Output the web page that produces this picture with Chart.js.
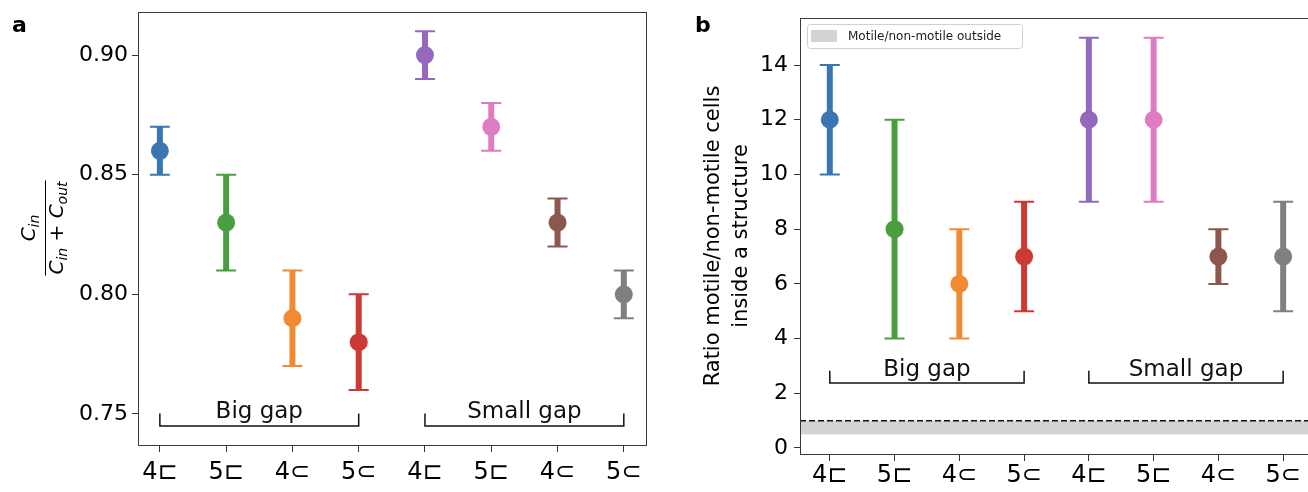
<!DOCTYPE html>
<html>
<head>
<meta charset="utf-8">
<script src="https://cdn.jsdelivr.net/npm/chart.js@4/dist/chart.umd.min.js"></script>
<style>
  html, body { margin: 0; padding: 0; background: #fff; overflow: hidden; width: 1308px; height: 492px; }
  #ca { position: absolute; left: 0; top: 0; }
  #cb { position: absolute; left: 660px; top: 0; }
</style>
</head>
<body>
<canvas id="ca" width="660" height="492"></canvas>
<canvas id="cb" width="660" height="492"></canvas>
<script>
// data
var categories = ['4⊏', '5⊏', '4⊂', '5⊂', '4⊏', '5⊏', '4⊂', '5⊂'];
var colors = ['#3a76b2', '#4a9e3f', '#f28a32', '#cd3a33', '#9468bd', '#de7cc3', '#8c574c', '#808080'];

var fracMean = [0.86, 0.83, 0.79, 0.78, 0.90, 0.87, 0.83, 0.80];
var fracLow  = [0.85, 0.81, 0.77, 0.76, 0.89, 0.86, 0.82, 0.79];
var fracHigh = [0.87, 0.85, 0.81, 0.80, 0.91, 0.88, 0.84, 0.81];
var fracTicks = [0.75, 0.80, 0.85, 0.90];

var ratioMean = [12, 8, 6, 7, 12, 12, 7, 7];
var ratioLow  = [10, 4, 4, 5, 9, 9, 6, 5];
var ratioHigh = [14, 12, 8, 9, 15, 15, 8, 9];
var ratioTicks = [0, 2, 4, 6, 8, 10, 12, 14];

var groupNames = ['Big gap', 'Small gap'];
var groupSpans = [[0, 3], [4, 7]];
var outsideBand = [0.5, 1.0];
var outsideLabel = 'Motile/non-motile outside';

var FONT = 'DejaVu Sans';

function points(vals) {
  return vals.map(function (v, i) { return { x: i, y: v }; });
}

// per-panel settings, kept out of chart options so functions aren't treated as scriptable
var panels = {};

var panelPlugin = {
  id: 'panel',
  beforeDatasetsDraw: function (chart) {
    var o = panels[chart.canvas.id];
    var ctx = chart.ctx, xs = chart.scales.x, ys = chart.scales.y, a = chart.chartArea;
    ctx.save();
    if (o.band) {
      ctx.fillStyle = '#d3d3d3';
      var y0 = ys.getPixelForValue(o.band[1]), y1 = ys.getPixelForValue(o.band[0]);
      ctx.fillRect(a.left, y0, a.right - a.left, y1 - y0);
      ctx.strokeStyle = '#111';
      ctx.lineWidth = 1.5;
      ctx.setLineDash([6, 3]);
      ctx.beginPath();
      ctx.moveTo(a.left, y0);
      ctx.lineTo(a.right, y0);
      ctx.stroke();
      ctx.setLineDash([]);
    }
    for (var i = 0; i < o.low.length; i++) {
      var x = xs.getPixelForValue(i);
      var yl = ys.getPixelForValue(o.low[i]), yh = ys.getPixelForValue(o.high[i]);
      ctx.strokeStyle = colors[i];
      ctx.lineWidth = 6;
      ctx.beginPath();
      ctx.moveTo(x, yl); ctx.lineTo(x, yh);
      ctx.stroke();
      ctx.lineWidth = 2;
      ctx.beginPath();
      ctx.moveTo(x - 10, yl); ctx.lineTo(x + 10, yl);
      ctx.moveTo(x - 10, yh); ctx.lineTo(x + 10, yh);
      ctx.stroke();
    }
    ctx.restore();
  },
  afterDatasetsDraw: function (chart) {
    var o = panels[chart.canvas.id];
    var ctx = chart.ctx, xs = chart.scales.x, ys = chart.scales.y, a = chart.chartArea;
    ctx.save();
    // group brackets
    ctx.strokeStyle = '#111';
    ctx.lineWidth = 1.5;
    ctx.fillStyle = '#111';
    ctx.font = '23px ' + FONT;
    ctx.textAlign = 'center';
    ctx.textBaseline = 'alphabetic';
    groupSpans.forEach(function (s, k) {
      var x0 = xs.getPixelForValue(s[0]), x1 = xs.getPixelForValue(s[1]);
      var yb = ys.getPixelForValue(o.bracket[0]), yt = ys.getPixelForValue(o.bracket[1]);
      ctx.beginPath();
      ctx.moveTo(x0, yt); ctx.lineTo(x0, yb); ctx.lineTo(x1, yb); ctx.lineTo(x1, yt);
      ctx.stroke();
      ctx.fillText(groupNames[k], (x0 + x1) / 2, ys.getPixelForValue(o.bracket[2]));
    });
    // frame
    ctx.strokeStyle = '#3a3a3a';
    ctx.lineWidth = 1;
    ctx.strokeRect(a.left + 0.5, a.top + 0.5, a.right - a.left - 1, a.bottom - a.top - 1);
    // panel letter
    ctx.fillStyle = '#000';
    ctx.font = 'bold 22px ' + FONT;
    ctx.textAlign = 'left';
    ctx.textBaseline = 'middle';
    ctx.fillText(o.letter, o.letterX, 26);
    ctx.restore();
    ctx.save();
    o.drawExtra(ctx, chart);
    ctx.restore();
  }
};

function noPad(s) {
  s.paddingTop = 0; s.paddingBottom = 0; s.paddingLeft = 0; s.paddingRight = 0;
}

function makeChart(id, mean, opt) {
  return new Chart(document.getElementById(id), {
    type: 'scatter',
    data: {
      datasets: [{
        data: points(mean),
        pointBackgroundColor: colors,
        pointBorderWidth: 0,
        pointRadius: 9,
        pointHoverRadius: 9
      }]
    },
    options: {
      responsive: false,
      animation: false,
      events: [],
      layout: { padding: { top: opt.top, right: opt.right, left: 0, bottom: 0 } },
      plugins: {
        legend: { display: false },
        tooltip: { enabled: false }
      },
      scales: {
        x: {
          type: 'linear',
          min: opt.xmin, max: opt.xmax,
          afterBuildTicks: function (s) { s.ticks = categories.map(function (c, i) { return { value: i }; }); },
          afterFit: function (s) { s.height = opt.xh; noPad(s); },
          border: { display: false },
          grid: { drawOnChartArea: false, drawTicks: true, tickLength: 6, color: '#333' },
          ticks: {
            autoSkip: false, maxRotation: 0, padding: opt.xpad, color: '#000',
            font: { family: FONT, size: 24 },
            callback: function (v) { return categories[v]; }
          }
        },
        y: {
          min: opt.ymin, max: opt.ymax,
          afterBuildTicks: function (s) { s.ticks = opt.ticks.map(function (v) { return { value: v }; }); },
          afterFit: function (s) { s.width = opt.yw; noPad(s); },
          border: { display: false },
          grid: { drawOnChartArea: false, drawTicks: true, tickLength: 6, color: '#333' },
          ticks: {
            padding: opt.ypad, color: '#000',
            font: { family: FONT, size: 22 },
            callback: opt.fmt
          }
        }
      }
    },
    plugins: [panelPlugin]
  });
}

panels.ca = {
  low: fracLow, high: fracHigh, band: null,
  bracket: [0.745, 0.7502, 0.7483],
  letter: 'a', letterX: 12,
  drawExtra: function (ctx) {
    // y title: C_in / (C_in + C_out)
    ctx.translate(45, 228);
    ctx.rotate(-Math.PI / 2);
    ctx.fillStyle = '#000';
    ctx.textBaseline = 'alphabetic';
    ctx.textAlign = 'left';
    var big = 'italic 20px ' + FONT, small = 'italic 14px ' + FONT, up = '20px ' + FONT;
    function w(t, f) { ctx.font = f; return ctx.measureText(t).width; }
    var parts = [['C', big, 0], ['in', small, 4], [' + ', up, 0], ['C', big, 0], ['out', small, 4]];
    var total = 0;
    parts.forEach(function (p) { total += w(p[0], p[1]); });
    var x = -total / 2;
    parts.forEach(function (p) {
      ctx.font = p[1];
      ctx.fillText(p[0], x, 18 + p[2]);
      x += ctx.measureText(p[0]).width;
    });
    var nw = w('C', big) + w('in', small);
    x = -nw / 2;
    ctx.font = big; ctx.fillText('C', x, -10); x += ctx.measureText('C').width;
    ctx.font = small; ctx.fillText('in', x, -6);
    ctx.strokeStyle = '#000';
    ctx.lineWidth = 1;
    ctx.beginPath();
    ctx.moveTo(-total / 2 - 1, 0.5); ctx.lineTo(total / 2 + 1, 0.5);
    ctx.stroke();
  }
};

panels.cb = {
  low: ratioLow, high: ratioHigh, band: outsideBand,
  bracket: [2.38, 2.82, 2.62],
  letter: 'b', letterX: 35,
  drawExtra: function (ctx) {
    // legend
    ctx.fillStyle = '#fff';
    ctx.strokeStyle = '#d0d0d0';
    ctx.lineWidth = 1;
    ctx.beginPath();
    ctx.roundRect(147.5, 24.5, 215, 24, 3);
    ctx.fill(); ctx.stroke();
    ctx.fillStyle = '#d3d3d3';
    ctx.fillRect(151, 30, 26, 12);
    ctx.fillStyle = '#222';
    ctx.font = '12px ' + FONT;
    ctx.textBaseline = 'middle';
    ctx.fillText(outsideLabel, 188, 36.5);
    // y title
    ctx.translate(68, 236);
    ctx.rotate(-Math.PI / 2);
    ctx.fillStyle = '#000';
    ctx.font = '21px ' + FONT;
    ctx.textAlign = 'center';
    ctx.textBaseline = 'middle';
    ctx.fillText('Ratio motile/non-motile cells', 0, -14);
    ctx.fillText('inside a structure', 0, 14);
  }
};

makeChart('ca', fracMean, {
  top: 12, right: 13, xh: 46, yw: 138, xpad: 6, ypad: 4,
  xmin: -0.33, xmax: 7.35, ymin: 0.7366, ymax: 0.918,
  ticks: fracTicks,
  fmt: function (v) { return v.toFixed(2); }
});

makeChart('cb', ratioMean, {
  top: 18, right: 5, xh: 37, yw: 140, xpad: 0, ypad: 6,
  xmin: -0.46, xmax: 7.43, ymin: -0.256, ymax: 15.72,
  ticks: ratioTicks,
  fmt: function (v) { return String(v); }
});
</script>
</body>
</html>
